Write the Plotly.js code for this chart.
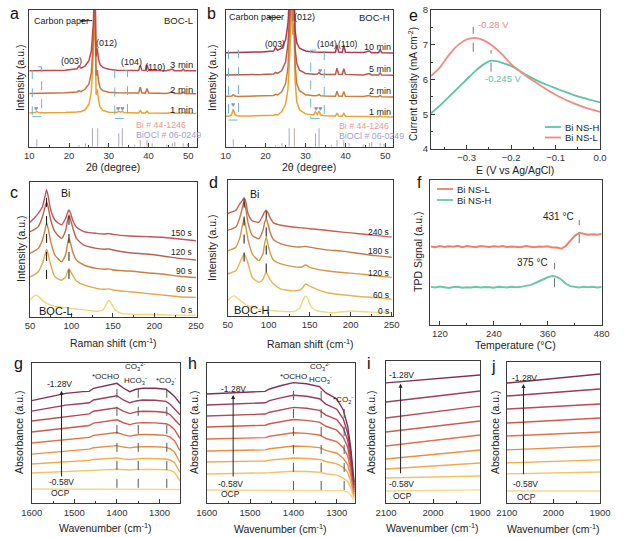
<!DOCTYPE html>
<html><head><meta charset="utf-8">
<script src="https://cdn.plot.ly/plotly-3.0.1.min.js"></script>
<style>html,body{margin:0;padding:0;background:#fff}#chart{width:627px;height:537px}</style>
</head><body><div id="chart"></div>
<script>
// ---------------- DATA ----------------
// Panels a, b : XRD
const xrdTwoTheta = [10, 11, 11.5, 11.9, 12.3, 13, 16, 19, 22, 22.5, 23, 24, 25, 25.6, 26.1, 26.5, 26.8, 27.1, 27.4, 27.8, 28.5, 30, 32, 32.5, 33, 33.4, 33.8, 35, 37.5, 37.9, 38.3, 39.2, 39.6, 40, 44.5, 46, 46.5, 48.3, 48.7, 49.1, 52];
const xrdL3min = [55.6, 55.6, 55.6, 55.7, 55.6, 55.6, 55.7, 56, 57, 59, 57.5, 59, 63, 70, 90, 130, 66, 72, 64, 60, 58, 56.6, 56, 56, 56, 56, 55.8, 55.8, 55.8, 59.5, 56, 55.8, 60, 56, 55.6, 56.8, 55.6, 55.6, 56.8, 55.6, 55.5];
const xrdL2min = [39, 39, 39, 39.3, 39, 39, 39.2, 39.5, 40, 40.8, 40.3, 42, 46, 54, 78, 115, 52, 56, 48, 43, 41, 39.8, 39.4, 39.4, 39.4, 39.5, 39.3, 39.2, 39.2, 43.5, 39.4, 39.2, 42.5, 39.3, 39, 40, 39, 39, 39.8, 39, 38.8];
const xrdL1min = [24.8, 24.8, 25, 25.8, 25, 24.8, 24.8, 25, 25.4, 25.8, 25.6, 27, 31, 40, 68, 105, 38, 42, 34, 29, 26.5, 25.2, 25, 25.8, 25.2, 26, 25, 24.7, 24.6, 26.4, 24.7, 24.6, 26, 24.6, 24.4, 25, 24.4, 24.4, 24.9, 24.4, 24.2];
const xrdH10min = [68.8, 68.8, 68.8, 69, 68.8, 68.8, 69, 69.3, 70, 72.5, 70.5, 72, 78, 90, 115, 140, 112, 120, 85, 76, 72, 70, 69.2, 69.2, 69.2, 69.3, 69.1, 69, 69, 74.5, 69.2, 69, 74, 69.1, 68.9, 70, 68.8, 68.8, 71, 68.8, 68.6];
const xrdH5min = [52.4, 52.4, 52.4, 52.6, 52.4, 52.4, 52.5, 52.8, 53.2, 54.3, 53.6, 55.5, 62, 75, 100, 130, 102, 110, 72, 61, 56, 53.6, 53, 53, 53.2, 54.2, 53, 52.8, 52.8, 57.5, 53, 52.8, 57, 52.9, 52.5, 53.5, 52.5, 52.4, 54, 52.4, 52.2];
const xrdH2min = [36.8, 36.8, 37, 38, 37, 36.8, 36.9, 37.1, 37.5, 38.3, 37.8, 40, 46, 58, 85, 120, 92, 100, 60, 46, 41, 38, 37.3, 37.5, 37.5, 38.3, 37.3, 37, 36.9, 40.5, 37, 36.9, 40.3, 36.9, 36.7, 37.4, 36.7, 36.6, 37.5, 36.6, 36.4];
const xrdH1min = [22.3, 22.5, 23.5, 27.5, 23.5, 22.5, 22.5, 22.6, 23, 23.6, 23.2, 25.5, 31, 42, 70, 110, 82, 90, 48, 33, 27, 24, 23.2, 25.5, 23.5, 26, 23.2, 22.6, 22.4, 24.5, 22.5, 22.3, 24.3, 22.3, 22.1, 22.5, 22, 22, 22.5, 22, 21.8];
const stickBiPos = [22.5, 27.2, 37.9, 39.6, 44.6, 46.0, 48.7];
const stickBiHeight = [1.2, 13.5, 4.9, 4.9, 1.5, 2.5, 2.4];
const stickBiOClPos = [11.9, 24.1, 25.9, 32.5, 33.4, 36.5, 40.9, 46.6, 49.7];
const stickBiOClHeight = [5.5, 2.5, 13.5, 9.8, 13.5, 1.5, 2.5, 3.5, 2.0];

// Panels c, d : Raman
const ramanShift = [50, 55, 60, 65, 68, 70, 72, 75, 80, 88, 93, 95, 97, 99, 102, 106, 115, 130, 140, 145, 150, 170, 190, 210, 230, 250];
const ramanL150s = [70, 73, 76.5, 81.5, 89, 93.8, 89, 79, 71.6, 68, 73, 76.5, 79, 76.5, 70.5, 66.5, 63, 61.7, 61.3, 61.5, 61, 59.8, 59.3, 58.8, 57.5, 56.3];
const ramanL120s = [63, 64.5, 66.7, 74, 81, 85, 81, 71.6, 63, 58, 64, 70.5, 75.3, 71.5, 65, 58, 53, 50.6, 50, 50.2, 49.4, 47.4, 46.4, 45, 43.2, 42];
const ramanL90s = [47, 48.5, 50.6, 56.8, 64, 69, 65, 55.6, 45.7, 40.7, 46, 53, 58, 54, 47, 42, 38.3, 35.8, 35.2, 35.4, 34.6, 33.8, 32.6, 31.6, 30, 29];
const ramanL60s = [29.6, 31, 33.3, 39.5, 46, 50, 46, 38.3, 29.6, 27, 29.5, 33, 35.8, 33.5, 30, 26.5, 23.5, 21, 20.3, 20.6, 19.8, 18.5, 17.3, 16, 14.8, 14.3];
const ramanH240s = [75.3, 76.5, 77.8, 82.7, 85, 87, 84, 75, 70, 69, 74, 76.5, 77.8, 76, 72, 68.5, 66.7, 65.4, 64.8, 64.6, 64.2, 63, 61.7, 60.5, 59.3, 58];
const ramanH180s = [63, 64, 65.4, 72.8, 80, 84, 79, 67.9, 59.3, 56.8, 63, 68.5, 71.6, 68, 61, 56, 53, 51, 50.8, 51.2, 50.6, 48.6, 47.7, 46, 44.4, 43.2];
const ramanH120s = [48, 49, 50.6, 58, 67, 71.6, 66, 55.6, 45.7, 40.7, 45.7, 53, 58, 53, 46, 41, 38.3, 36.3, 36, 37.5, 35.8, 33.3, 32, 31, 29.6, 28.4];
const ramanH60s = [30.9, 32, 33.3, 39.5, 43.5, 45.7, 43.5, 38.3, 28.4, 24.7, 27, 30, 32, 30, 26.5, 23.5, 19.8, 18.5, 19.8, 23.5, 22, 17.3, 15.6, 14.3, 13.6, 12.3];
const ramanShift0s = [50, 54, 58, 62, 66, 75, 90, 110, 130, 138, 142, 145, 148, 152, 160, 180, 200, 220, 250];
const ramanL0s = [12.3, 15, 16, 14, 11.5, 8.6, 6.9, 5.4, 4, 5, 9, 12.3, 10, 5.5, 2.5, 1.7, 1.7, 1.2, 1.2];
const ramanH0s = [11.1, 13.6, 14.8, 13, 11, 7.4, 4.9, 3.7, 3.2, 6, 12, 14.8, 12.5, 6.5, 3.7, 2.5, 3.7, 3, 2.5];

// Panel e : current density
const ePotentialH = [-0.38, -0.36, -0.34, -0.32, -0.30, -0.28, -0.26, -0.245, -0.23, -0.22, -0.20, -0.18, -0.16, -0.14, -0.12, -0.10, -0.08, -0.06, -0.04, -0.02, 0];
const eCurrentH = [5.03, 5.25, 5.5, 5.75, 6.0, 6.25, 6.45, 6.54, 6.52, 6.48, 6.39, 6.24, 6.09, 5.96, 5.85, 5.75, 5.65, 5.56, 5.48, 5.41, 5.34];
const ePotentialL = [-0.38, -0.36, -0.34, -0.32, -0.30, -0.28, -0.26, -0.24, -0.22, -0.20, -0.18, -0.16, -0.14, -0.12, -0.10, -0.08, -0.06, -0.04, -0.02, 0];
const eCurrentL = [6.1, 6.35, 6.7, 6.98, 7.15, 7.2, 7.12, 6.95, 6.72, 6.44, 6.24, 6.05, 5.88, 5.71, 5.56, 5.43, 5.32, 5.22, 5.14, 5.07];

// Panel f : TPD
const tpdTemp = [100, 110, 120, 130, 140, 150, 160, 170, 180, 190, 200, 210, 220, 230, 240, 250, 260, 270, 280, 290, 300, 310, 320, 330, 340, 350, 360, 370, 380, 390, 400, 410, 420, 430, 440, 450, 460, 470, 480];
const tpdL = [54.2, 53.6, 54.5, 53.8, 54.3, 54.0, 54.6, 53.7, 54.4, 54.1, 53.6, 54.5, 54.0, 53.8, 54.3, 53.9, 54.5, 53.7, 54.2, 54.0, 53.6, 54.4, 54.1, 53.7, 54.2, 53.9, 54.3, 53.5, 53.4, 52.6, 54.5, 58, 61.5, 63.6, 63, 62.2, 62.6, 62.3, 62.8];
const tpdH = [26.3, 25.8, 26.5, 26.0, 25.6, 26.2, 26.4, 25.7, 26.1, 25.9, 26.4, 25.8, 26.2, 26.0, 25.7, 26.3, 26.1, 25.9, 26.4, 26.0, 26.3, 26.8, 27.5, 28.6, 30.1, 31.6, 32.9, 33.8, 33.2, 31.4, 28.6, 26.8, 26.2, 25.8, 26.3, 26.0, 26.4, 25.9, 26.2];

// Panels g-j : in-situ IR, series order OCP, -0.58 ... -1.28 V
const potentialNames = ['OCP', '-0.58V', '-0.68V', '-0.78V', '-0.88V', '-0.98V', '-1.08V', '-1.18V', '-1.28V'];
const gWavenumber = [1600, 1560, 1520, 1480, 1465, 1455, 1430, 1400, 1385, 1370, 1355, 1340, 1310, 1285, 1275, 1265, 1252];
const gSeries = [
  [10.2, 10.2, 10.2, 10.2, 10.2, 10.2, 10.2, 10.2, 10.2, 10.2, 10.2, 10.2, 10.2, 10.2, 10.2, 10.1, 9.8],
  [21.6, 22, 22.5, 23, 23.1, 23.5, 23.8, 24.2, 23.9, 23.7, 24, 24.2, 24.1, 23.9, 23.4, 22, 16],
  [28, 28.7, 29.6, 30.3, 30.5, 31.2, 31.7, 32.3, 31.6, 31.2, 31.6, 31.9, 31.8, 31.5, 30.8, 29, 22],
  [35, 36, 37.3, 38.2, 38.5, 39.5, 40.2, 41, 40, 39.4, 40, 40.3, 40.2, 39.8, 38.8, 36.5, 29],
  [42.9, 44, 45.5, 46.6, 46.9, 48.3, 49.2, 50.3, 48.8, 47.8, 48.6, 49, 48.8, 48.3, 47, 44.5, 37.5],
  [50.7, 52, 53.8, 55, 55.3, 57, 58, 59.4, 57.3, 56, 57, 57.4, 57.2, 56.6, 55.2, 52.5, 46],
  [58.5, 60, 62, 63.3, 63.6, 65.5, 66.5, 68, 65.5, 63.8, 65, 65.5, 65.3, 64.6, 63, 60, 55.5],
  [65.6, 67.5, 69.8, 71, 71.5, 73.5, 74.8, 76.5, 73.5, 71.5, 72.8, 73.5, 73.3, 72.5, 70.5, 67, 63],
  [73, 75.8, 78.2, 79.4, 79.6, 81.8, 83.4, 85.3, 82, 79.4, 81.1, 81.8, 81.8, 81.1, 78.7, 76, 71]
];
const hWavenumber = [1600, 1560, 1520, 1480, 1465, 1455, 1430, 1400, 1370, 1340, 1325, 1300, 1285, 1275, 1268, 1260];
const hSeries = [
  [9.5, 9.5, 9.5, 9.5, 9.5, 9.5, 9.5, 9.5, 9.5, 9.5, 9.5, 9.4, 9, 8, 6, 2],
  [20.8, 20.9, 21.1, 21.2, 21.3, 21.7, 22.3, 22.8, 22.6, 22.1, 21, 20, 18, 15.5, 11.5, 3.5],
  [29.4, 29.6, 29.8, 29.9, 30.1, 30.7, 31.5, 32.2, 31.9, 31.2, 29.7, 28, 25.5, 22, 16, 5],
  [37.2, 37.4, 37.7, 37.9, 38, 38.8, 39.9, 40.8, 40.5, 39.6, 37.6, 35.6, 32, 27.5, 20, 6.5],
  [45.7, 46, 46.3, 46.5, 46.7, 47.7, 49, 50.2, 49.7, 48.6, 46.1, 43.8, 39.5, 34, 24, 8],
  [54.3, 54.6, 55, 55.3, 55.5, 56.6, 58.1, 59.6, 59.0, 57.7, 54.8, 52, 47, 40, 28, 9.5],
  [62.1, 62.5, 62.9, 63.2, 63.5, 64.8, 66.5, 68.2, 67.6, 66.1, 62.7, 59.5, 53.5, 45, 32, 11],
  [69.9, 70.3, 70.8, 71.2, 71.5, 73, 75, 76.8, 76.1, 74.4, 70.6, 66.9, 60, 50, 36, 13],
  [77.7, 78.2, 78.8, 79.2, 79.6, 81.3, 83.6, 85.8, 85, 83, 78.5, 74.2, 66.4, 55, 40, 15]
];
const iWavenumber = [2100, 2000, 1900];
const iSeries = [
  [8.6, 9.0, 9.4], [17.8, 18.6, 19.2], [24.1, 26.3, 28.3], [31.1, 34.5, 37.5], [40.3, 44.3, 48],
  [50.1, 54.1, 57.8], [59.9, 64.3, 68.3], [71.2, 75.2, 78.9], [84.6, 87.4, 90.2]
];
const jWavenumber = [2100, 2000, 1900];
const jSeries = [
  [8.7, 8.7, 8.7], [20.8, 21.5, 22.2], [28.6, 29.7, 30.7], [37.8, 39.3, 40.6], [47.6, 49.1, 50.5],
  [56.8, 58.7, 60.4], [66.7, 68.6, 70.3], [75.9, 78.5, 80.9], [85.1, 88.5, 91.5]
];

// ---------------- STYLE / LAYOUT ----------------
const FONT = 'Liberation Sans, Arial, Helvetica, sans-serif';
const W = 627, H = 537;
const px = v => v / W, py = v => 1 - v / H;
const irColors = ['#f6d98c', '#f3c364', '#f0aa4c', '#ea9043', '#df7249', '#cd5b52', '#b54a5b', '#9b3d5e', '#7f3157'];
const colNSH_e = '#5ec2a6', colNSL_e = '#f08a84', colNSL_f = '#f08068', colNSH_f = '#6cc6ac';

const traces = [];
function line(x, y, color, n, opt) {
  opt = opt || {};
  traces.push({
    type: 'scatter', mode: 'lines', x: x, y: y,
    xaxis: n === 1 ? 'x' : 'x' + n, yaxis: n === 1 ? 'y' : 'y' + n,
    line: {color: color, width: opt.width || 1.4, shape: opt.shape || 'linear', smoothing: opt.smoothing || 0.6},
    name: opt.name || '', showlegend: false,
    hoverinfo: 'skip', connectgaps: false
  });
}
function sticks(pos, hts, color, n) {
  const x = [], y = [];
  pos.forEach((p, i) => { x.push(p, p, null); y.push(0, hts[i], null); });
  line(x, y, color, n, {width: 1});
}

// a
sticks(stickBiPos, stickBiHeight, '#b8a8a8', 1);
sticks(stickBiOClPos, stickBiOClHeight, '#a8a8bc', 1);
line(xrdTwoTheta, xrdL1min, '#eaa232', 1, {width: 1.5});
line(xrdTwoTheta, xrdL2min, '#c8703e', 1, {width: 1.5});
line(xrdTwoTheta, xrdL3min, '#c4464e', 1, {width: 1.5});
// b
sticks(stickBiPos, stickBiHeight, '#b8a8a8', 2);
sticks(stickBiOClPos, stickBiOClHeight, '#a8a8bc', 2);
line(xrdTwoTheta, xrdH1min, '#eaa232', 2, {width: 1.5});
line(xrdTwoTheta, xrdH2min, '#c8803c', 2, {width: 1.5});
line(xrdTwoTheta, xrdH5min, '#b85a52', 2, {width: 1.5});
line(xrdTwoTheta, xrdH10min, '#ac3a4c', 2, {width: 1.5});
// e
line(ePotentialH, eCurrentH, colNSH_e, 3, {width: 1.8, shape: 'spline', name: 'Bi NS-H'});
line(ePotentialL, eCurrentL, colNSL_e, 3, {width: 1.8, shape: 'spline', name: 'Bi NS-L'});
// c
line(ramanShift0s, ramanL0s, '#f2d672', 4, {shape: 'spline'});
line(ramanShift, ramanL60s, '#e2a848', 4, {shape: 'spline'});
line(ramanShift, ramanL90s, '#c88242', 4, {shape: 'spline'});
line(ramanShift, ramanL120s, '#b8644c', 4, {shape: 'spline'});
line(ramanShift, ramanL150s, '#c2545a', 4, {shape: 'spline'});
// d
line(ramanShift0s, ramanH0s, '#f2d878', 5, {shape: 'spline'});
line(ramanShift, ramanH60s, '#e4b450', 5, {shape: 'spline'});
line(ramanShift, ramanH120s, '#d29a42', 5, {shape: 'spline'});
line(ramanShift, ramanH180s, '#c47a48', 5, {shape: 'spline'});
line(ramanShift, ramanH240s, '#c86050', 5, {shape: 'spline'});
// f
line(tpdTemp, tpdL, colNSL_f, 6, {width: 2, name: 'Bi NS-L'});
line(tpdTemp, tpdH, colNSH_f, 6, {width: 2, name: 'Bi NS-H'});
// g-j
gSeries.forEach((s, k) => line(gWavenumber, s, irColors[k], 7, {width: 1.4, name: potentialNames[k]}));
hSeries.forEach((s, k) => line(hWavenumber, s, irColors[k], 8, {width: 1.4, name: potentialNames[k]}));
iSeries.forEach((s, k) => line(iWavenumber, s, irColors[k], 9, {width: 1.4, name: potentialNames[k]}));
jSeries.forEach((s, k) => line(jWavenumber, s, irColors[k], 10, {width: 1.4, name: potentialNames[k]}));

const AX = '#3a3a3a';
function xAx(n, f, range, dtick, minor, extra) {
  return Object.assign({
    domain: [px(f[0]), px(f[1])], range: range, dtick: dtick, anchor: n === 1 ? 'y' : 'y' + n,
    showline: true, mirror: true, linecolor: AX, linewidth: 1,
    ticks: 'inside', ticklen: 4, tickwidth: 1, tickcolor: AX,
    minor: {dtick: minor, ticks: 'inside', ticklen: 2, tickcolor: AX},
    showgrid: false, zeroline: false, fixedrange: true,
    tickfont: {family: FONT, size: 9.5, color: '#333'}
  }, extra || {});
}
function yAx(n, f, range, extra) {
  return Object.assign({
    domain: [py(f[3]), py(f[2])], range: range, anchor: n === 1 ? 'x' : 'x' + n,
    showline: true, mirror: true, linecolor: AX, linewidth: 1,
    ticks: '', showticklabels: false, showgrid: false, zeroline: false, fixedrange: true
  }, extra || {});
}
// frames [left, right, top, bottom] in px
const fr = {
  a: [29.3, 196.7, 10, 146.7], b: [225.7, 393.3, 10, 146.7], e: [431, 600, 10, 149],
  c: [30, 196.7, 181.7, 316.7], d: [227.7, 393.3, 180, 316], f: [430, 601.7, 180, 325],
  g: [31.7, 180, 362.7, 503.3], h: [206.7, 355, 362.7, 503.3], i: [386, 480, 361, 503.3], j: [506.7, 600, 362, 503.3]
};

const annotations = [];
function t(text, x, y, ref, o) {
  o = o || {};
  annotations.push(Object.assign({
    text: text, x: x, y: y, xref: ref ? ref[0] : 'paper', yref: ref ? ref[1] : 'paper',
    showarrow: false, xanchor: 'center', yanchor: 'middle',
    font: {family: FONT, size: o.size || 9, color: o.color || '#222'}
  }, o.extra || {}));
}
function pt(text, X, Y, o) { t(text, px(X), py(Y), null, o); }
function arrow(x, y0, y1, n) {
  annotations.push({x: x, y: y1, ax: x, ay: y0, xref: 'x' + n, yref: 'y' + n, axref: 'x' + n, ayref: 'y' + n,
    text: '', showarrow: true, arrowhead: 2, arrowsize: 0.8, arrowwidth: 1, arrowcolor: '#222'});
}

// panel letters
[['a', 14, 14], ['b', 211, 14], ['e', 413, 15], ['c', 14, 192], ['d', 213, 182], ['f', 419, 182],
 ['g', 18, 363], ['h', 192, 363], ['i', 369, 363], ['j', 493, 366]].forEach(l => pt(l[0], l[1], l[2], {size: 16, color: '#111'}));
// y titles
[['Intensity (a.u.)', 20, 78, 10.5], ['Intensity (a.u.)', 212, 78, 10.5], ['Current density (mA cm<sup>-2</sup>)', 413, 84, 10],
 ['Intensity (a.u.)', 21, 249, 10.5], ['Intensity (a.u.)', 212, 248, 10.5], ['TPD Signal (a.u.)', 418, 252, 10.5],
 ['Absorbance (a.u.)', 19, 433, 10.5], ['Absorbance (a.u.)', 194, 433, 10.5], ['Absorbance (a.u.)', 371, 433, 10.5], ['Absorbance (a.u.)', 495, 433, 10.5]]
 .forEach(l => pt(l[0], l[1], l[2], {size: l[3], extra: {textangle: -90}}));
// x titles
[['2θ (degree)', 113, 167], ['2θ (degree)', 309, 167], ['E (V vs Ag/AgCl)', 515, 170],
 ['Raman shift (cm<sup>-1</sup>)', 113, 342], ['Raman shift (cm<sup>-1</sup>)', 310, 343], ['Temperature (°C)', 515, 345],
 ['Wavenumber (cm<sup>-1</sup>)', 105, 527], ['Wavenumber (cm<sup>-1</sup>)', 280, 528], ['Wavenumber (cm<sup>-1</sup>)', 432, 527], ['Wavenumber (cm<sup>-1</sup>)', 553, 528]]
 .forEach(l => pt(l[0], l[1], l[2], {size: 10.5}));

// manual legends (panel e and f)
const legendShapes = [];
function legendEntry(label, color, x0, x1, yPx, width) {
  legendShapes.push({type: 'line', xref: 'paper', yref: 'paper', x0: px(x0), x1: px(x1), y0: py(yPx), y1: py(yPx),
    line: {color: color, width: width}});
  pt(label, x1 + 2, yPx, {size: 9.5, extra: {xanchor: 'left'}});
}
legendEntry('Bi NS-H', colNSH_e, 545, 561, 127, 1.8);
legendEntry('Bi NS-L', colNSL_e, 545, 561, 137.5, 1.8);
legendEntry('Bi NS-L', colNSL_f, 437, 453, 189, 1.8);
legendEntry('Bi NS-H', colNSH_f, 437, 453, 200, 1.8);

// a annotations
const A = ['x', 'y'];
t('Carbon paper', 10.6, 92.2, A, {extra: {xanchor: 'left'}});
t('BOC-L', 51.6, 92.2, A, {size: 9.5, extra: {xanchor: 'right'}});
t('(003)', 20.7, 62.7, A); t('(012)', 29.3, 76, A); t('(104)', 35.7, 61.7, A); t('(110)', 41.7, 58.5, A);
t('3 min', 51.7, 60.3, A, {size: 9.5, extra: {xanchor: 'right'}});
t('2 min', 51.7, 42, A, {size: 9.5, extra: {xanchor: 'right'}});
t('1 min', 51.7, 27.4, A, {size: 9.5, extra: {xanchor: 'right'}});
t('Bi # 44-1246', 36.4, 15.6, A, {size: 8.8, color: '#eb9a8c', extra: {xanchor: 'left'}});
t('BiOCl # 06-0249', 36.4, 8.4, A, {size: 8.8, color: '#a29ed4', extra: {xanchor: 'left'}});
t('♥', 11.8, 28, A, {size: 7, color: '#8a8cc4'});
t('♥♥', 32.9, 27.8, A, {size: 7, color: '#8a8cc4'});
annotations.push({x: 22.7, y: 92.2, ax: 26.2, ay: 92.2, xref: 'x', yref: 'y', axref: 'x', ayref: 'y', text: '', showarrow: true, arrowhead: 2, arrowsize: 0.7, arrowwidth: 1, arrowcolor: '#222'});
// b annotations
const B = ['x2', 'y2'];
t('Carbon paper', 10.3, 94.6, B, {extra: {xanchor: 'left'}});
annotations.push({x: 20.4, y: 94.6, ax: 24.3, ay: 94.6, xref: 'x2', yref: 'y2', axref: 'x2', ayref: 'y2', text: '', showarrow: true, arrowhead: 2, arrowsize: 0.7, arrowwidth: 1, arrowcolor: '#222'});
t('(012)', 29.8, 94.6, B); t('BOC-H', 51.6, 94.6, B, {size: 9.5, extra: {xanchor: 'right'}});
t('(003)', 22.3, 75, B, {size: 8.5}); t('(104)', 35.4, 75, B, {size: 8.5}); t('(110)', 40.4, 75, B, {size: 8.5});
t('10 min', 51.8, 73, B, {size: 9, extra: {xanchor: 'right'}});
t('5 min', 51.8, 56.8, B, {size: 9, extra: {xanchor: 'right'}});
t('2 min', 51.8, 41, B, {size: 9, extra: {xanchor: 'right'}});
t('1 min', 51.8, 25.2, B, {size: 9, extra: {xanchor: 'right'}});
t('Bi # 44-1246', 38.0, 15.1, B, {size: 8.8, color: '#eb9a8c', extra: {xanchor: 'left'}});
t('BiOCl # 06-0249', 38.0, 7.8, B, {size: 8.8, color: '#a29ed4', extra: {xanchor: 'left'}});
t('♥', 11.9, 31, B, {size: 7, color: '#8a8cc4'});
t('♥', 33.6, 55.4, B, {size: 7, color: '#8a8cc4'});
t('♥♥', 33.2, 27.8, B, {size: 7, color: '#8a8cc4'});
// e annotations
const E = ['x3', 'y3'];
t('-0.28 V', -0.279, 7.57, E, {size: 9.5, color: colNSL_e, extra: {xanchor: 'left'}});
t('-0.245 V', -0.262, 6.03, E, {size: 9.5, color: colNSH_e, extra: {xanchor: 'left'}});
// c annotations
const C = ['x4', 'y4'];
[['150 s', 61.8], ['120 s', 47.7], ['90 s', 34], ['60 s', 20.3], ['0 s', 5]].forEach(l => t(l[0], 248, l[1], C, {size: 8.5, extra: {xanchor: 'right'}}));
t('BOC-L', 59, 4, C, {size: 11, color: '#111', extra: {xanchor: 'left'}});
t('Bi', 85, 92, C, {size: 10.5, color: '#111', extra: {xanchor: 'left'}});
// d annotations
const D = ['x5', 'y5'];
[['240 s', 62], ['180 s', 47.5], ['120 s', 31.5], ['60 s', 15.5], ['0 s', 3.5]].forEach(l => t(l[0], 249, l[1], D, {size: 8.5, extra: {xanchor: 'right'}}));
t('BOC-H', 55, 4.5, D, {size: 11, color: '#111', extra: {xanchor: 'left'}});
t('Bi', 75, 90, D, {size: 10.5, color: '#111', extra: {xanchor: 'left'}});
// f annotations
const F = ['x6', 'y6'];
t('431 °C', 383, 75, F, {size: 10}); t('375 °C', 327, 43, F, {size: 10});
// g annotations
const G = ['x7', 'y7'];
t('*OCHO', 1428, 90.5, G, {size: 8}); t('CO<sub>3</sub><sup>2-</sup>', 1357, 97, G, {size: 8});
t('HCO<sub>3</sub><sup>-</sup>', 1357, 87.5, G, {size: 8}); t('*CO<sub>2</sub><sup>-</sup>', 1284, 87, G, {size: 8});
t('-1.28V', 1534, 85, G, {size: 8.5}); t('-0.58V', 1530, 15.4, G, {size: 8.5}); t('OCP', 1532, 7, G, {size: 8.5});
arrow(1530, 18, 80, 7);
// h annotations
const Hh = ['x8', 'y8'];
t('*OCHO', 1400, 90.5, Hh, {size: 8}); t('CO<sub>3</sub><sup>2-</sup>', 1338, 97, Hh, {size: 8});
t('HCO<sub>3</sub><sup>-</sup>', 1338, 88, Hh, {size: 8}); t('*CO<sub>2</sub><sup>-</sup>', 1285, 73.5, Hh, {size: 8});
t('-1.28V', 1539, 81, Hh, {size: 8.5}); t('-0.58V', 1546, 13.5, Hh, {size: 8.5}); t('OCP', 1545, 6.4, Hh, {size: 8.5});
arrow(1539, 18, 77, 8);
// i annotations
const I = ['x9', 'y9'];
t('-1.28V', 2067, 90, I, {size: 8.5}); t('-0.58V', 2067, 13.5, I, {size: 8.5}); t('OCP', 2065, 5, I, {size: 8.5});
arrow(2069, 20, 84, 9);
// j annotations
const J = ['x10', 'y10'];
t('-1.28V', 2061, 88.5, J, {size: 8.5}); t('-0.58V', 2060, 13.4, J, {size: 8.5}); t('OCP', 2058, 4.7, J, {size: 8.5});
arrow(2064, 19.5, 84.5, 10);

// shapes
const shapes = legendShapes.slice();
function vdash(n, x, y0, y1, color) {
  shapes.push({type: 'line', xref: n === 1 ? 'x' : 'x' + n, yref: n === 1 ? 'y' : 'y' + n, x0: x, x1: x, y0: y0, y1: y1,
    line: {color: color || '#333', width: 1, dash: 'dash'}});
}
function box(n, x0, x1, y0, y1) {
  shapes.push({type: 'rect', xref: n === 1 ? 'x' : 'x' + n, yref: n === 1 ? 'y' : 'y' + n, x0: x0, x1: x1, y0: y0, y1: y1,
    line: {color: '#6fb7c4', width: 1, dash: 'dash'}});
}
box(1, 10.75, 13.1, 22, 58.5); box(1, 31.5, 34.7, 20.7, 55.6);
box(2, 10.7, 13.2, 19.5, 70.7); box(2, 31.3, 34.7, 20.7, 70.7);
vdash(4, 70, 28, 93, '#111'); vdash(4, 97, 28, 78, '#111');
vdash(5, 70, 40, 86, '#111'); vdash(5, 97, 32, 77, '#111');
vdash(3, -0.285, 6.8, 7.52, '#777'); vdash(3, -0.245, 6.23, 6.85, '#777');
vdash(6, 430, 56.5, 72.5, '#777'); vdash(6, 375, 26, 42.8, '#777');
vdash(7, 1400, 11, 85, '#555'); vdash(7, 1350, 11, 82, '#555'); vdash(7, 1283, 11, 81, '#555');
vdash(8, 1400, 9.5, 85.8, '#555'); vdash(8, 1336, 9.5, 83, '#555'); vdash(8, 1283, 9.5, 73, '#555');

const layout = {
  width: W, height: H, margin: {l: 0, r: 0, t: 0, b: 0},
  paper_bgcolor: '#fff', plot_bgcolor: 'rgba(0,0,0,0)',
  font: {family: FONT, color: '#222'},
  showlegend: false,
  xaxis: xAx(1, fr.a, [10, 52.1], 10, 5),
  yaxis: yAx(1, fr.a, [0, 100]),
  xaxis2: xAx(2, fr.b, [10, 52], 10, 5),
  yaxis2: yAx(2, fr.b, [0, 100]),
  xaxis3: xAx(3, fr.e, [-0.38, 0], 0.1, 0.05, {tickformat: '.1f'}),
  yaxis3: yAx(3, fr.e, [4, 8], {ticks: 'inside', ticklen: 4, tickcolor: AX, showticklabels: true, dtick: 1,
    minor: {dtick: 0.5, ticks: 'inside', ticklen: 2, tickcolor: AX}, tickfont: {family: FONT, size: 9.5, color: '#333'}}),
  xaxis4: xAx(4, fr.c, [50, 251], 50, 25),
  yaxis4: yAx(4, fr.c, [0, 100]),
  xaxis5: xAx(5, fr.d, [50, 252], 50, 25),
  yaxis5: yAx(5, fr.d, [0, 100]),
  xaxis6: xAx(6, fr.f, [98, 480], 120, 60),
  yaxis6: yAx(6, fr.f, [0, 100]),
  xaxis7: xAx(7, fr.g, [1600, 1252], 100, 50),
  yaxis7: yAx(7, fr.g, [0, 100]),
  xaxis8: xAx(8, fr.h, [1600, 1258], 100, 50),
  yaxis8: yAx(8, fr.h, [0, 100]),
  xaxis9: xAx(9, fr.i, [2100, 1900], 100, 50),
  yaxis9: yAx(9, fr.i, [0, 100]),
  xaxis10: xAx(10, fr.j, [2100, 1900], 100, 50),
  yaxis10: yAx(10, fr.j, [0, 100]),
  annotations: annotations, shapes: shapes
};
Plotly.newPlot('chart', traces, layout, {displayModeBar: false, staticPlot: true});
</script></body></html>
